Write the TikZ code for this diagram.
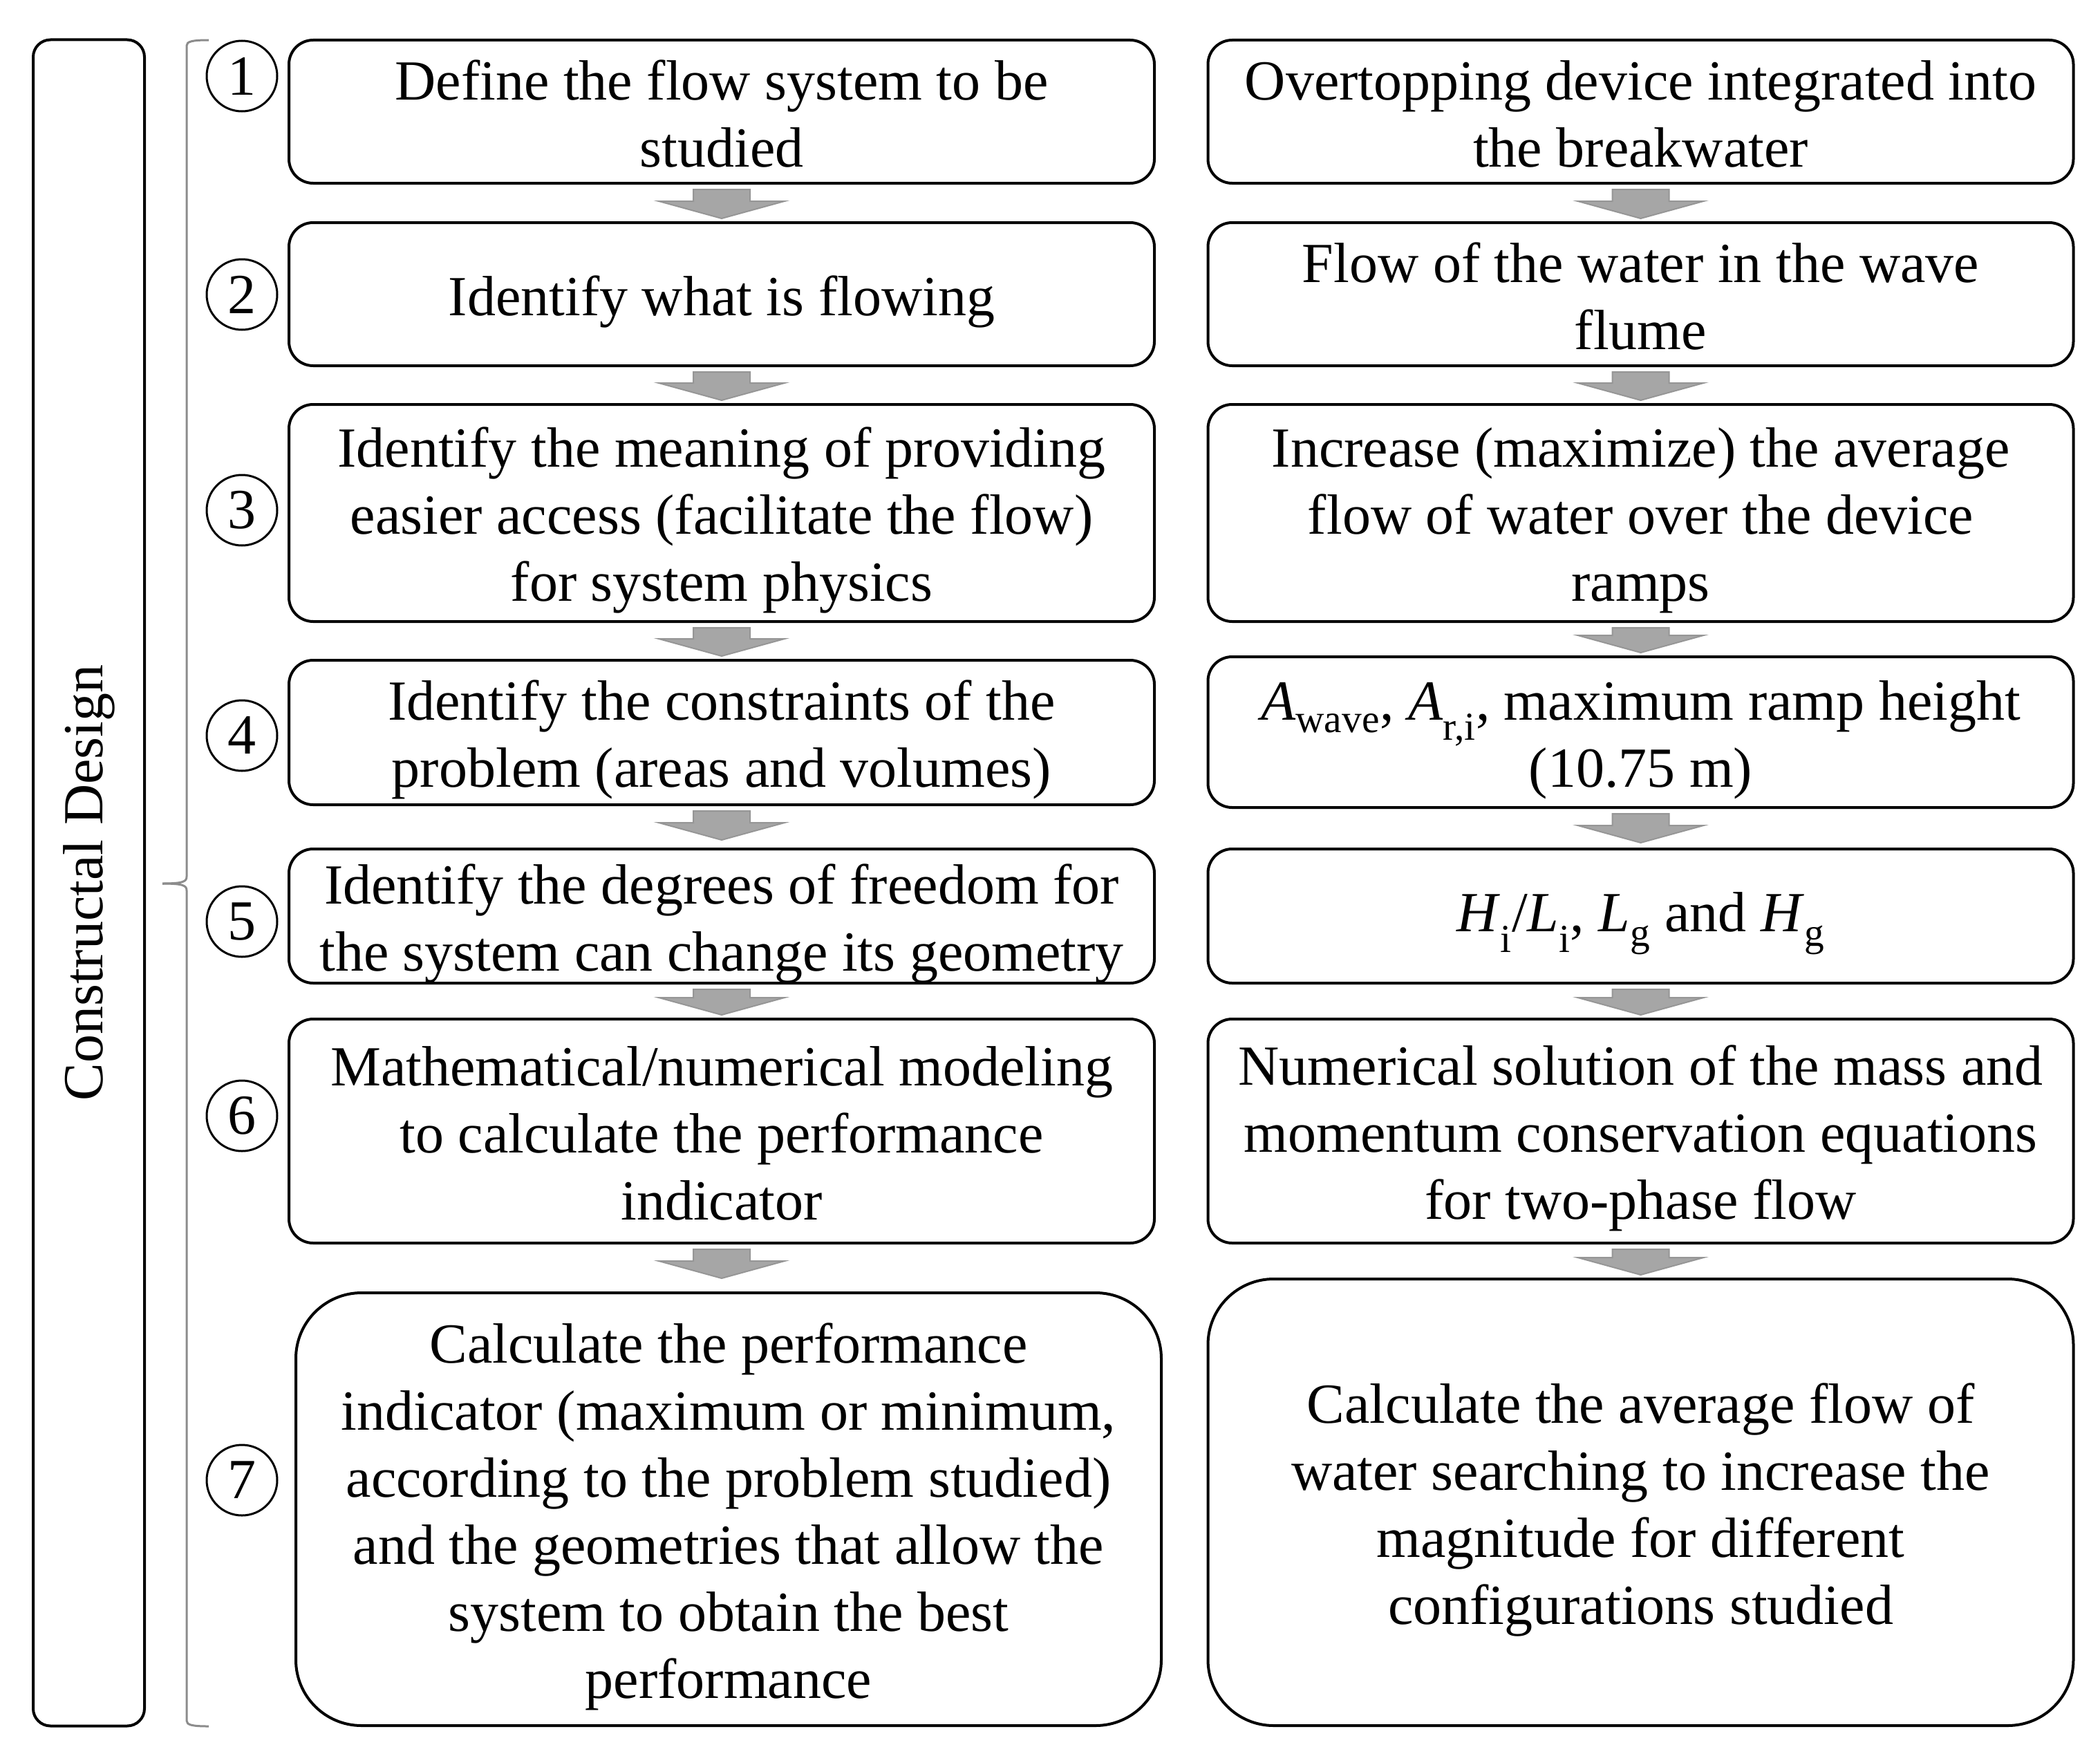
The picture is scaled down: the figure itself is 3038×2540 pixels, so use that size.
\documentclass[tikz,border=0pt]{standalone}
\usepackage{fontspec}
\setmainfont{Liberation Serif}
\usetikzlibrary{calc}
\definecolor{arrowfill}{HTML}{A6A6A6}
\definecolor{arrowline}{HTML}{969696}
\definecolor{bracketgray}{HTML}{8C8C8C}
\newcommand\mysub[1]{\textsubscript{#1}}
\newcommand\toprl{\rule{0pt}{79pt}}
\newcommand\botrl{\rule[-17pt]{0pt}{17pt}}
\newcommand\blkarrow[3]{%
  \filldraw[blkarrow]
    ($(#1.south)+(-41,7)$) -- ($(#1.south)+(41,7)$) --
    ($(#1.south |- #2.north)+(41,-#3-25)$) -- ($(#1.south |- #2.north)+(91,-#3-25)$) --
    ($(#1.south |- #2.north)+(0,-#3)$) --
    ($(#1.south |- #2.north)+(-91,-#3-25)$) -- ($(#1.south |- #2.north)+(-41,-#3-25)$) -- cycle;}
\begin{document}
\begin{tikzpicture}[x=1pt,y=-1pt,
  every node/.style={font=\fontsize{82}{97}\selectfont},
  bx/.style={draw, line width=4, rounded corners=35, align=center, inner sep=0, minimum width=1252},
  bigbx/.style={draw, line width=4, rounded corners=95, align=center, inner sep=0, minimum width=1252},
  circ/.style={draw, circle, line width=3, minimum size=102, inner sep=0},
  blkarrow/.style={fill=arrowfill, draw=arrowline, line width=2, line join=miter},
]
\fill[white] (0,0) rectangle (3038,2540);
\useasboundingbox (0,0) rectangle (3038,2540);

% left tall box
\node[draw, line width=4, rounded corners=25, rotate=90, minimum width=2439, minimum height=161, inner sep=0] (cd) at (128.5,1277) {Constructal Design};

% bracket
\draw[bracketgray, line width=3] (302,58) .. controls (278,58) and (270,60) .. (270,66) -- (270,1268)
   .. controls (270,1275) and (265,1278) .. (235,1278);
\draw[bracketgray, line width=3] (235,1278) .. controls (265,1278) and (270,1281) .. (270,1288) -- (270,2489)
   .. controls (270,2495) and (278,2497) .. (302,2497);

% circles
\node[circ] (c1) at (350,110) {1};
\node[circ] (c2) at (350,426) {2};
\node[circ] (c3) at (350,738) {3};
\node[circ] (c4) at (350,1064) {4};
\node[circ] (c5) at (350,1333) {5};
\node[circ] (c6) at (350,1614) {6};
\node[circ] (c7) at (350,2141) {7};

% left column
\node[bx, minimum height=207] (L1) at (1044,161.5) {\toprl Define the flow system to be\\studied\botrl};
\node[bx, minimum height=207] (L2) at (1044,425.5) {\toprl Identify what is flowing\botrl};
\node[bx, minimum height=314] (L3) at (1044,742) {\toprl Identify the meaning of providing\\easier access (facilitate the flow)\\for system physics\botrl};
\node[bx, minimum height=209] (L4) at (1044,1059.5) {\toprl Identify the constraints of the\\problem (areas and volumes)\botrl};
\node[bx, minimum height=194] (L5) at (1044,1325) {\toprl Identify the degrees of freedom for\\the system can change its geometry\botrl};
\node[bx, minimum height=324] (L6) at (1044,1636) {\toprl Mathematical/numerical modeling\\to calculate the performance\\indicator\botrl};
\node[bigbx, minimum height=626] (L7) at (1054,2183) {\toprl Calculate the performance\\indicator (maximum or minimum,\\according to the problem studied)\\and the geometries that allow the\\system to obtain the best\\performance\botrl};

% right column
\node[bx, minimum height=207] (R1) at (2373.5,161.5) {\toprl Overtopping device integrated into\\the breakwater\botrl};
\node[bx, minimum height=207] (R2) at (2373.5,425.5) {\toprl Flow of the water in the wave\\flume\botrl};
\node[bx, minimum height=314] (R3) at (2373.5,742) {\toprl Increase (maximize) the average\\flow of water over the device\\ramps\botrl};
\node[bx, minimum height=218] (R4) at (2373.5,1059) {\toprl\textit{A}\mysub{wave}, \textit{A}\mysub{r,i}, maximum ramp height\\(10.75 m)\botrl};
\node[bx, minimum height=194] (R5) at (2373.5,1325) {\toprl\textit{H}\mysub{i}/\textit{L}\mysub{i}, \textit{L}\mysub{g} and \textit{H}\mysub{g}\botrl};
\node[bx, minimum height=324] (R6) at (2373.5,1636) {\toprl Numerical solution of the mass and\\momentum conservation equations\\for two-phase flow\botrl};
\node[bigbx, minimum height=646] (R7) at (2373.5,2173) {\toprl Calculate the average flow of\\water searching to increase the\\magnitude for different\\configurations studied\botrl};

% block arrows
\blkarrow{L1}{L2}{4}
\blkarrow{L2}{L3}{4}
\blkarrow{L3}{L4}{4}
\blkarrow{L4}{L5}{11}
\blkarrow{L5}{L6}{4}
\blkarrow{L6}{L7}{19}
\blkarrow{R1}{R2}{4}
\blkarrow{R2}{R3}{4}
\blkarrow{R3}{R4}{4}
\blkarrow{R4}{R5}{7}
\blkarrow{R5}{R6}{4}
\blkarrow{R6}{R7}{4}
\end{tikzpicture}
\end{document}
